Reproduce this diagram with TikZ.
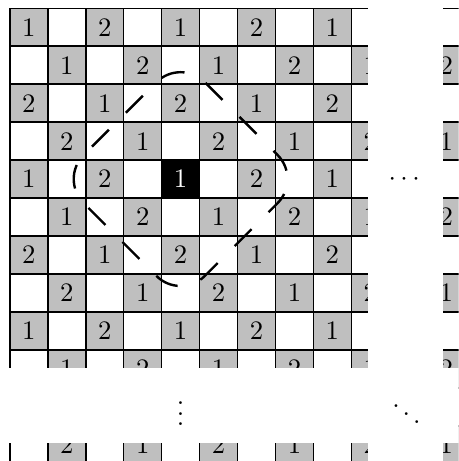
\documentclass[tikz,border=0pt]{standalone}
\usepackage{amsmath}
\usepackage{tikz}
\usetikzlibrary{calc}
\definecolor{feldgrau}{gray}{0.75}
\tikzset{
  grau/.style={fill=feldgrau},
  rand/.style={black,line width=0.6pt},
  ball/.style={black,line width=0.9pt,dash pattern=on 9pt off 9pt,dash phase=9pt,rounded corners=0.45cm},
  leer/.style={fill=white},
}

\begin{document}
\begin{tikzpicture}[x=0.5cm,y=0.5cm]
  \useasboundingbox (-0.26,0.22) rectangle (11.83,-11.93);
  \clip (-0.26,0.22) rectangle (11.83,-11.93);
  % Schachbrett mit Beschriftung
  \foreach \i in {0,...,11}
    \foreach \j in {0,...,11} {
      \pgfmathtruncatemacro\gerade{mod(\i+\j,2)}
      \pgfmathtruncatemacro\zahl{mod(\i-\j+12,4)==0 ? 1 : 2}
      \ifnum\gerade=0
        \fill[grau] (\i,-\j) rectangle ++(1,-1);
        \node (z-\i-\j) at (\i+0.5,-\j-0.5) {\zahl};
      \fi
    }
  \fill[black] (4,-4) rectangle (5,-5);
  \node[white] (mitte) at (4.5,-4.5) {1};
  \draw[rand,step=1] (0,-12) grid (12,0);
  % Luecken
  \fill[leer] (9.44,1) rectangle (11.41,-13);
  \fill[leer] (-1,-9.48) rectangle (13,-11.45);
  \node (hpunkte) at (10.45,-4.5) {$\cdots$};
  \node (vpunkte) at (4.5,-10.47) {$\vdots$};
  \node (dpunkte) at (10.45,-10.47) {$\ddots$};
  % Kugel um das Zentrum
  \coordinate (kL) at ($(mitte)+(-3.19,0)$);
  \coordinate (kO) at ($(mitte)+(0,3.19)$);
  \coordinate (kR) at ($(mitte)+(3.19,0)$);
  \coordinate (kU) at ($(mitte)+(0,-3.19)$);
  \draw[ball] ($(kL)!0.5!(kO)$) -- (kO) -- (kR) -- (kU) -- (kL) -- cycle;
\end{tikzpicture}
\end{document}
